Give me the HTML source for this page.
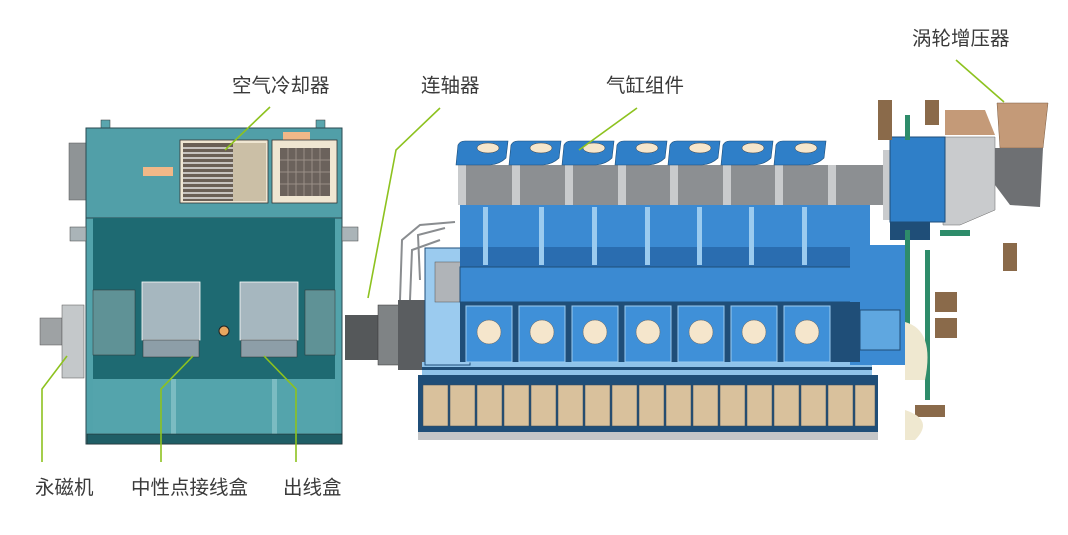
<!DOCTYPE html>
<html><head><meta charset="utf-8"><style>
html,body{margin:0;padding:0;background:#fff;}
svg{display:block}
text{font-family:"Liberation Sans","Noto Sans CJK SC",sans-serif;font-size:19.5px;fill:#3a3a3a}
</style></head><body>
<svg width="1068" height="535" viewBox="0 0 1068 535" xmlns="http://www.w3.org/2000/svg">
<!-- GENERATOR -->
<rect x="69" y="143" width="17" height="57" fill="#8f9496" stroke="#555" stroke-width="0.5"/>
<rect x="101" y="120" width="9" height="14" fill="#5aa6ae" stroke="#333" stroke-width="0.5"/>
<rect x="316" y="120" width="9" height="14" fill="#5aa6ae" stroke="#333" stroke-width="0.5"/>
<rect x="86" y="128" width="256" height="90" fill="#519fa8" stroke="#2a4a50" stroke-width="1"/>
<rect x="143" y="167" width="30" height="9" fill="#f1b888"/>
<rect x="283" y="132" width="27" height="8" fill="#f1b888"/>
<rect x="180" y="140" width="88" height="63" fill="#efe6d2" stroke="#333" stroke-width="0.8"/>
<rect x="183" y="143" width="50" height="58" fill="#6a5f55"/>
<g stroke="#fff" stroke-width="1.3">
<line x1="183" y1="148" x2="233" y2="148"/><line x1="183" y1="153" x2="233" y2="153"/><line x1="183" y1="158" x2="233" y2="158"/><line x1="183" y1="163" x2="233" y2="163"/><line x1="183" y1="168" x2="233" y2="168"/><line x1="183" y1="173" x2="233" y2="173"/><line x1="183" y1="178" x2="233" y2="178"/><line x1="183" y1="183" x2="233" y2="183"/><line x1="183" y1="188" x2="233" y2="188"/><line x1="183" y1="193" x2="233" y2="193"/><line x1="183" y1="198" x2="233" y2="198"/>
</g>
<rect x="233" y="143" width="33" height="58" fill="#cbbfa6"/>
<rect x="272" y="140" width="65" height="63" fill="#efe6d2" stroke="#333" stroke-width="0.8"/>
<rect x="280" y="148" width="50" height="48" fill="#6b625c"/>
<g stroke="#9a8f86" stroke-width="1"><line x1="288" y1="148" x2="288" y2="196"/><line x1="296" y1="148" x2="296" y2="196"/><line x1="304" y1="148" x2="304" y2="196"/><line x1="312" y1="148" x2="312" y2="196"/><line x1="320" y1="148" x2="320" y2="196"/><line x1="280" y1="160" x2="330" y2="160"/><line x1="280" y1="172" x2="330" y2="172"/><line x1="280" y1="184" x2="330" y2="184"/></g>
<rect x="86" y="218" width="256" height="226" fill="#52a3ab" stroke="#2a4a50" stroke-width="1"/>
<rect x="93" y="218" width="242" height="161" fill="#1e6a72"/>
<rect x="93" y="379" width="242" height="56" fill="#54a4ac"/>
<rect x="171" y="379" width="5" height="56" fill="#7bbcc2"/>
<rect x="272" y="379" width="5" height="56" fill="#7bbcc2"/>
<rect x="87" y="434" width="255" height="10" fill="#1f5e66" stroke="#222" stroke-width="0.5"/>
<rect x="70" y="227" width="16" height="14" fill="#aab4b8" stroke="#444" stroke-width="0.5"/>
<rect x="342" y="227" width="16" height="14" fill="#aab4b8" stroke="#444" stroke-width="0.5"/>
<rect x="93" y="290" width="42" height="65" fill="#5f9296" stroke="#333" stroke-width="0.5"/>
<rect x="305" y="290" width="30" height="65" fill="#5f9296" stroke="#333" stroke-width="0.5"/>
<rect x="142" y="282" width="58" height="58" fill="#a6b7bf" stroke="#fff" stroke-width="0.8"/>
<rect x="143" y="340" width="56" height="17" fill="#8d9ea8" stroke="#333" stroke-width="0.5"/>
<rect x="240" y="282" width="58" height="58" fill="#a6b7bf" stroke="#fff" stroke-width="0.8"/>
<rect x="241" y="340" width="56" height="17" fill="#8d9ea8" stroke="#333" stroke-width="0.5"/>
<circle cx="224" cy="331" r="5" fill="#e8a75f" stroke="#222"/>
<rect x="40" y="318" width="22" height="27" fill="#9ea2a4" stroke="#555" stroke-width="0.5"/>
<rect x="62" y="305" width="22" height="73" fill="#c4c8ca" stroke="#555" stroke-width="0.5"/>
<!-- COUPLING -->
<rect x="345" y="315" width="35" height="45" fill="#55585a"/>
<rect x="378" y="305" width="22" height="60" fill="#7f8385" stroke="#333" stroke-width="0.5"/>
<rect x="398" y="300" width="28" height="70" fill="#5a5d60"/>
<g stroke="#8a8d90" stroke-width="2" fill="none"><path d="M400 300 L402 240 L420 225 L455 222"/><path d="M410 300 L412 250 L440 240"/><path d="M420 280 L418 235 L445 228"/></g>
<!-- ENGINE -->
<rect x="418" y="375" width="460" height="57" fill="#1f4e78"/>
<g fill="#d9c19c" stroke="#3a4a5a" stroke-width="0.5">
<rect x="423" y="385" width="25" height="41"/><rect x="450" y="385" width="25" height="41"/><rect x="477" y="385" width="25" height="41"/><rect x="504" y="385" width="25" height="41"/><rect x="531" y="385" width="25" height="41"/><rect x="558" y="385" width="25" height="41"/><rect x="585" y="385" width="25" height="41"/><rect x="612" y="385" width="25" height="41"/><rect x="639" y="385" width="25" height="41"/><rect x="666" y="385" width="25" height="41"/><rect x="693" y="385" width="25" height="41"/><rect x="720" y="385" width="25" height="41"/><rect x="747" y="385" width="25" height="41"/><rect x="774" y="385" width="25" height="41"/><rect x="801" y="385" width="25" height="41"/><rect x="828" y="385" width="25" height="41"/><rect x="855" y="385" width="20" height="41"/>
</g>
<rect x="418" y="432" width="460" height="8" fill="#c4c6c8"/>
<rect x="422" y="362" width="450" height="13" fill="#8fc3ea"/>
<rect x="422" y="367" width="450" height="3" fill="#1f4e78"/>
<rect x="425" y="248" width="45" height="117" fill="#9bcbef" stroke="#1f4e78" stroke-width="1"/>
<rect x="435" y="262" width="28" height="40" fill="#b0b4b8" stroke="#555" stroke-width="0.5"/>
<rect x="460" y="205" width="410" height="62" fill="#3b8ad2"/>
<rect x="460" y="247" width="410" height="20" fill="#2a6db0"/>
<g fill="#9bcbef"><rect x="483" y="207" width="5" height="58"/><rect x="539" y="207" width="5" height="58"/><rect x="592" y="207" width="5" height="58"/><rect x="645" y="207" width="5" height="58"/><rect x="697" y="207" width="5" height="58"/><rect x="749" y="207" width="5" height="58"/><rect x="802" y="207" width="5" height="58"/></g>
<rect x="460" y="267" width="395" height="35" fill="#3b8ad2" stroke="#1f4e78" stroke-width="1"/>
<rect x="850" y="245" width="60" height="120" fill="#3b8ad2"/>
<rect x="860" y="310" width="40" height="40" fill="#5fa7e0" stroke="#1f4e78"/>
<rect x="460" y="302" width="400" height="60" fill="#1f4e78"/>
<g fill="#3f90d8" stroke="#9bcbef" stroke-width="1">
<rect x="466" y="306" width="46" height="56"/><rect x="519" y="306" width="46" height="56"/><rect x="572" y="306" width="46" height="56"/><rect x="625" y="306" width="46" height="56"/><rect x="678" y="306" width="46" height="56"/><rect x="731" y="306" width="46" height="56"/><rect x="784" y="306" width="46" height="56"/>
</g>
<g fill="#f5e6cc" stroke="#666" stroke-width="0.5">
<circle cx="489" cy="332" r="12"/><circle cx="542" cy="332" r="12"/><circle cx="595" cy="332" r="12"/><circle cx="648" cy="332" r="12"/><circle cx="701" cy="332" r="12"/><circle cx="754" cy="332" r="12"/><circle cx="807" cy="332" r="12"/>
</g>
<rect x="458" y="165" width="425" height="40" fill="#8c8f92"/>
<g fill="#c9cbcd"><rect x="458" y="165" width="8" height="40"/><rect x="512" y="165" width="8" height="40"/><rect x="565" y="165" width="8" height="40"/><rect x="618" y="165" width="8" height="40"/><rect x="670" y="165" width="8" height="40"/><rect x="723" y="165" width="8" height="40"/><rect x="775" y="165" width="8" height="40"/><rect x="828" y="165" width="8" height="40"/></g>
<g fill="#2f7fc8" stroke="#1f4e78" stroke-width="0.6">
<path d="M456 165 L458 145 Q460 141 465 141 L508 141 L506 158 Q500 164 490 165 Z"/>
<path d="M509 165 L511 145 Q513 141 518 141 L561 141 L559 158 Q553 164 543 165 Z"/>
<path d="M562 165 L564 145 Q566 141 571 141 L614 141 L612 158 Q606 164 596 165 Z"/>
<path d="M615 165 L617 145 Q619 141 624 141 L667 141 L665 158 Q659 164 649 165 Z"/>
<path d="M668 165 L670 145 Q672 141 677 141 L720 141 L718 158 Q712 164 702 165 Z"/>
<path d="M721 165 L723 145 Q725 141 730 141 L773 141 L771 158 Q765 164 755 165 Z"/>
<path d="M774 165 L776 145 Q778 141 783 141 L826 141 L824 158 Q818 164 808 165 Z"/>
</g>
<g fill="#f5e6cc" stroke="#444" stroke-width="0.5">
<ellipse cx="488" cy="148" rx="11" ry="5"/><ellipse cx="541" cy="148" rx="11" ry="5"/><ellipse cx="594" cy="148" rx="11" ry="5"/><ellipse cx="647" cy="148" rx="11" ry="5"/><ellipse cx="700" cy="148" rx="11" ry="5"/><ellipse cx="753" cy="148" rx="11" ry="5"/><ellipse cx="806" cy="148" rx="11" ry="5"/>
</g>
<!-- TURBO -->
<path d="M943 137 L995 137 L995 210 L960 225 L943 225 Z" fill="#c9cbcd" stroke="#666" stroke-width="0.5"/>
<rect x="883" y="150" width="12" height="70" fill="#c9cbcd"/>
<rect x="890" y="137" width="55" height="85" fill="#2f7fc8" stroke="#1f4e78"/>
<rect x="890" y="222" width="40" height="18" fill="#1f4e78"/>
<path d="M945 110 L985 110 L995 135 L945 135 Z" fill="#c49a78"/>
<path d="M997 103 L1048 103 L1043 148 L1000 148 Z" fill="#c49a78" stroke="#7a5a40" stroke-width="0.5"/>
<path d="M995 148 L1043 148 L1040 207 L1010 205 L995 185 Z" fill="#6e7073"/>
<g fill="#2e8c6a"><rect x="905" y="230" width="5" height="140"/><rect x="925" y="250" width="5" height="150"/><rect x="940" y="230" width="30" height="6"/><rect x="905" y="115" width="5" height="25"/></g>
<g fill="#8a6a4a"><rect x="878" y="100" width="14" height="40"/><rect x="925" y="100" width="14" height="25"/><rect x="935" y="292" width="22" height="20"/><rect x="935" y="318" width="22" height="20"/><rect x="915" y="405" width="30" height="12"/><rect x="1003" y="243" width="14" height="28"/></g>
<path d="M905 322 Q935 330 925 380 L905 380 Z" fill="#efe8d0"/>
<path d="M905 410 Q935 420 915 440 L905 440 Z" fill="#efe8d0"/>
<!-- LEADER LINES -->
<g stroke="#8dc21f" stroke-width="1.6" fill="none">
<polyline points="270,107 225,150"/>
<polyline points="440,108 396,150 368,298"/>
<polyline points="637,108 579,150"/>
<polyline points="956,60 1004,102"/>
<polyline points="42,462 42,389 67,356"/>
<polyline points="161,462 161,389 193,356"/>
<polyline points="296,462 296,389 264,356"/>
</g>
<!-- LABELS -->
<text x="232" y="92">空气冷却器</text>
<text x="421" y="92">连轴器</text>
<text x="606" y="92">气缸组件</text>
<text x="912" y="45">涡轮增压器</text>
<text x="35" y="494">永磁机</text>
<text x="131" y="494">中性点接线盒</text>
<text x="283" y="494">出线盒</text>
</svg>
</body></html>
